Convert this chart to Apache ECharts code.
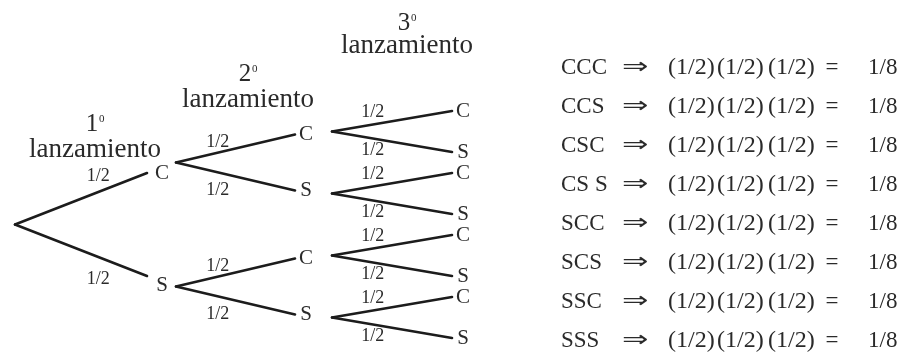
<!DOCTYPE html>
<html><head><meta charset="utf-8">
<script src="https://cdn.jsdelivr.net/npm/echarts@6/dist/echarts.min.js"></script>
<style>html,body{margin:0;padding:0;background:#fff}#c{width:899px;height:353px}</style>
</head><body><div id="c"></div>
<script>
// ---- data ----
const outcomes = ['C', 'S'];
const branchProbs = ['1/2', '1/2'];
const levelNumbers = ['1', '2', '3'];
const levelOrdinal = '0';
const levelWord = 'lanzamiento';
const sequences = ['CCC', 'CCS', 'CSC', 'CS S', 'SCC', 'SCS', 'SSC', 'SSS'];
const factors = [
  ['1/2', '1/2', '1/2'], ['1/2', '1/2', '1/2'], ['1/2', '1/2', '1/2'], ['1/2', '1/2', '1/2'],
  ['1/2', '1/2', '1/2'], ['1/2', '1/2', '1/2'], ['1/2', '1/2', '1/2'], ['1/2', '1/2', '1/2']
];
const results = ['1/8', '1/8', '1/8', '1/8', '1/8', '1/8', '1/8', '1/8'];
const arrowSymbol = '\u21D2';
const equalsSymbol = '=';

// ---- layout (styling only) ----
const SERIF = '"Liberation Serif", "DejaVu Serif", serif';
const INK = '#2a2a2a';
const LINE = '#1c1c1c';
const depth = levelNumbers.length;
const levelStartX = [15, 176, 332];
const levelEndX = [147, 295, 452];
const nodeLabelX = [162, 306, 463];
const leafTop = 111, pairGap = 62, sibGap = 41;
const linePull = [0.17, 0.1, 0];
const labelPull = [0.1, 0.1, 0];
const labelShift = [5, 0, 0];
const probFrac = [0.63, 0.35, 0.34];
const probUp = [16, 10, 12];
const probDown = [22, 18, 12];
const titleX = [95, 248, 407];
const titleDigitY = [124, 74, 23];
const titleWordY = [150, 100, 46];
const rowTop = 68, rowGap = 39;
const seqX = 561, arrowX = 622, factorX = [668, 717, 768], eqX = 832, resX = 868;

// build tree node positions: levelY[L][j]
const levelY = [];
levelY[depth] = [];
for (let i = 0; i < Math.pow(2, depth); i++) {
  levelY[depth].push(leafTop + Math.floor(i / 2) * pairGap + (i % 2) * sibGap);
}
for (let L = depth - 1; L >= 0; L--) {
  levelY[L] = [];
  for (let j = 0; j < Math.pow(2, L); j++) {
    levelY[L].push((levelY[L + 1][2 * j] + levelY[L + 1][2 * j + 1]) / 2);
  }
}

const edgeData = [];
const nodeData = [];
for (let L = 1; L <= depth; L++) {
  for (let j = 0; j < Math.pow(2, L); j++) {
    const side = j % 2;
    const py = levelY[L - 1][Math.floor(j / 2)];
    const ny = levelY[L][j];
    const ey = ny + (py - ny) * linePull[L - 1];
    edgeData.push({ value: [levelStartX[L - 1], py, levelEndX[L - 1], ey, side, L - 1], prob: branchProbs[side] });
    nodeData.push({ value: [nodeLabelX[L - 1], ny + (py - ny) * labelPull[L - 1] + labelShift[L - 1]], name: outcomes[side] });
  }
}

const chart = echarts.init(document.getElementById('c'), null, { renderer: 'canvas' });

function txt(x, y, text, size, align, family) {
  return {
    type: 'text', x: x, y: y,
    style: { text: text, fill: INK, font: size + 'px ' + (family || SERIF), align: align || 'center', verticalAlign: 'middle' }
  };
}

chart.setOption({
  animation: false,
  grid: { left: 0, right: 0, top: 0, bottom: 0 },
  xAxis: { type: 'value', min: 0, max: 899, show: false },
  yAxis: { type: 'value', min: 0, max: 353, inverse: true, show: false },
  series: [
    {
      type: 'custom', name: 'branches', data: edgeData,
      renderItem: function (params, api) {
        const d = edgeData[params.dataIndex];
        const p1 = api.coord([d.value[0], d.value[1]]);
        const p2 = api.coord([d.value[2], d.value[3]]);
        const lvl = d.value[5], side = d.value[4];
        const f = probFrac[lvl];
        const lx = p1[0] + (p2[0] - p1[0]) * f;
        const ly = p1[1] + (p2[1] - p1[1]) * f + (side === 0 ? -probUp[lvl] : probDown[lvl]);
        return {
          type: 'group',
          children: [
            { type: 'line', shape: { x1: p1[0], y1: p1[1], x2: p2[0], y2: p2[1] }, style: { stroke: LINE, lineWidth: 2.6, lineCap: 'round' } },
            txt(lx, ly, d.prob, 18)
          ]
        };
      }
    },
    {
      type: 'custom', name: 'nodes', data: nodeData,
      renderItem: function (params, api) {
        const d = nodeData[params.dataIndex];
        const p = api.coord(d.value);
        return txt(p[0], p[1], d.name, 21);
      }
    },
    {
      type: 'custom', name: 'titles', data: levelNumbers.map((n, i) => [titleX[i], titleDigitY[i]]),
      renderItem: function (params, api) {
        const i = params.dataIndex;
        const pd = api.coord([titleX[i], titleDigitY[i]]);
        const pw = api.coord([titleX[i], titleWordY[i]]);
        return {
          type: 'group',
          children: [
            txt(pd[0] - 3, pd[1], levelNumbers[i], 25),
            txt(pd[0] + 4, pd[1] - 5, levelOrdinal, 11, 'left'),
            txt(pw[0], pw[1], levelWord, 27)
          ]
        };
      }
    },
    {
      type: 'custom', name: 'table', data: sequences.map((s, i) => [seqX, rowTop + i * rowGap]),
      renderItem: function (params, api) {
        const i = params.dataIndex;
        const y = rowTop + i * rowGap;
        const kids = [];
        let p = api.coord([seqX, y]);
        kids.push(txt(p[0], p[1], sequences[i], 23, 'left'));
        p = api.coord([arrowX, y]);
        const arr = txt(0, 0, arrowSymbol, 21, 'left', '"DejaVu Sans", sans-serif');
        arr.x = p[0]; arr.y = p[1]; arr.scaleX = 1.5;
        kids.push(arr);
        factors[i].forEach(function (fc, k) {
          const q = api.coord([factorX[k], y]);
          kids.push(txt(q[0], q[1], '(' + fc + ')', 24, 'left'));
        });
        p = api.coord([eqX, y]);
        kids.push(txt(p[0], p[1], equalsSymbol, 23));
        p = api.coord([resX, y]);
        kids.push(txt(p[0], p[1], results[i], 23, 'left'));
        return { type: 'group', children: kids };
      }
    }
  ]
});
</script>
</body></html>
